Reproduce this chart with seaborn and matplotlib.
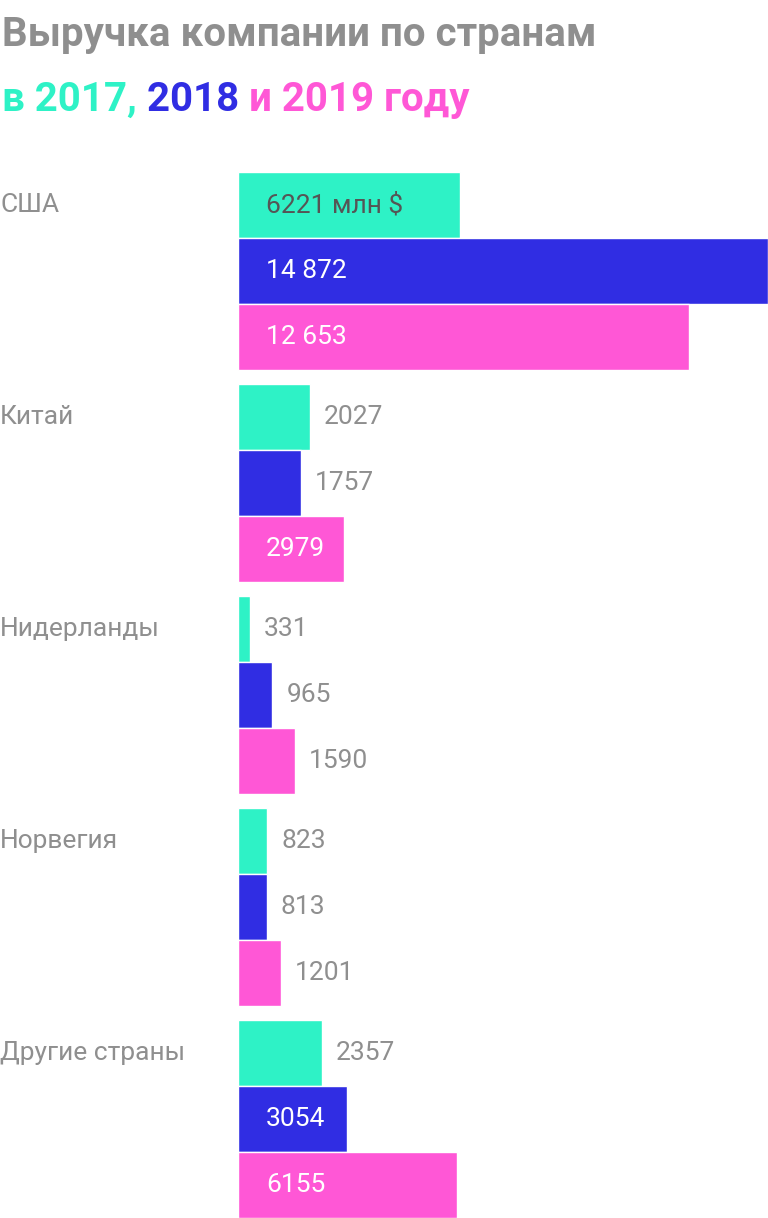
import matplotlib
matplotlib.use("Agg")
import matplotlib.pyplot as plt
import seaborn as sns
import pandas as pd

countries = ["США", "Китай", "Нидерланды", "Норвегия", "Другие страны"]
years = ["2017", "2018", "2019"]
rev_2017 = [6221, 2027, 331, 823, 2357]
rev_2018 = [14872, 1757, 965, 813, 3054]
rev_2019 = [12653, 2979, 1590, 1201, 6155]
labels_2017 = ["6221 млн $", "2027", "331", "823", "2357"]
labels_2018 = ["14 872", "1757", "965", "813", "3054"]
labels_2019 = ["12 653", "2979", "1590", "1201", "6155"]
inside_min = 2900

colors = ["#2ef2c6", "#302de3", "#ff57d6"]
grey = "#8f8f8f"

sns.set_theme(style="white")
plt.rcParams["font.family"] = ["Roboto", "DejaVu Sans"]

df = pd.DataFrame({
    "country": countries * 3,
    "year": [y for y in years for _ in countries],
    "value": rev_2017 + rev_2018 + rev_2019,
    "label": labels_2017 + labels_2018 + labels_2019,
})

fig = plt.figure(figsize=(7.68, 12.18), dpi=100)
ax = fig.add_axes([238 / 768, 0, 530 / 768, 1 - 172 / 1218])
sns.barplot(data=df, y="country", x="value", hue="year", orient="h",
            palette=colors, width=0.934, ax=ax, legend=False, saturation=1)
ax.set_xlim(0, 14872)
ax.set_ylim(4.467, -0.467)
ax.axis("off")

bh = 0.934 / 3
for i, c in enumerate(countries):
    for j, y in enumerate(years):
        row = df[(df.country == c) & (df.year == y)].iloc[0]
        yc = i - 0.467 + bh * (j + 0.5)
        if row.value >= inside_min:
            col = "#555555" if j == 0 else "white"
            ax.text(28 / 530 * 14872, yc, row.label, va="center", ha="left",
                    fontsize=19, color=col)
        else:
            ax.text(row.value + 14 / 530 * 14872, yc, row.label, va="center",
                    ha="left", fontsize=19, color=grey)
    fig.text(0, 1 - (205 + 212 * i) / 1218, c, va="center", ha="left",
             fontsize=19, color=grey)

fig.text(0.003, 1 - 35 / 1218, "Выручка компании по странам", va="center",
         ha="left", fontsize=29, fontweight="bold", color=grey)

parts = [("в 2017, ", colors[0]), ("2018 ", colors[1]), ("и 2019 году", colors[2])]
renderer = fig.canvas.get_renderer()
x = 0.003
for s, col in parts:
    t = fig.text(x, 1 - 100 / 1218, s, va="center", ha="left", fontsize=29,
                 fontweight="bold", color=col)
    bb = t.get_window_extent(renderer=renderer)
    x += bb.width / fig.bbox.width

fig.savefig("out.png", dpi=100)
